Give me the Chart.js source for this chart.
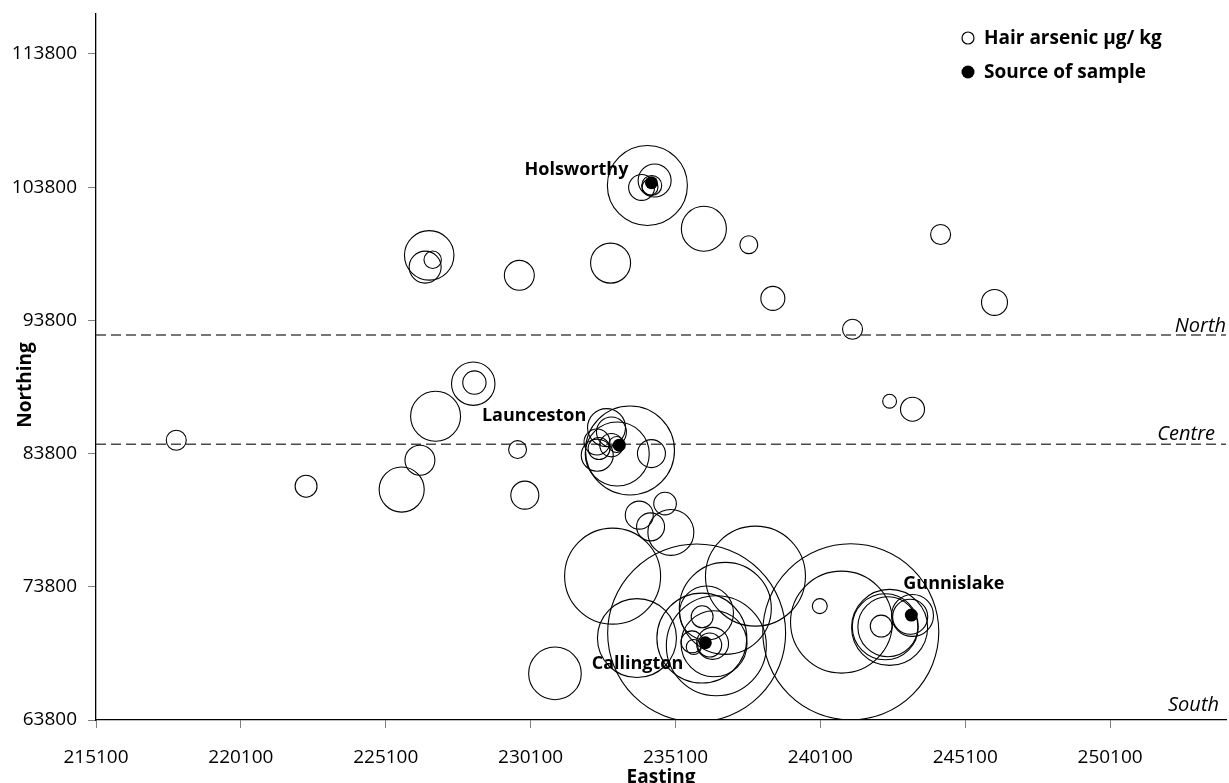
<!DOCTYPE html>
<html><head><meta charset="utf-8">
<script src="https://cdn.jsdelivr.net/npm/chart.js@4"></script>
<style>html,body{margin:0;padding:0;background:#fff}canvas{display:block}</style>
</head><body>
<canvas id="c" width="1229" height="783"></canvas>
<script>
// ---- data ----
const eastings = [234130,234380,233930,234220,234280,236080,237630,232860,229710,226600,226460,226720,238460,244250,246110,241210,
  228120,228160,226820,226280,225650,229650,229900,217870,222350,242490,243280,
  233530,233090,234270,232720,232890,232400,232390,232460,232890,233070,
  233850,234740,234240,234940,232930,235830,237860,233770,230940,
  236010,236510,236820,236170,236020,236430,235670,235730,236380,236280,
  241150,240830,240080,242340,242490,242430,243280,243200,242200];
const northings = [103930,104300,103780,103800,103930,100680,99480,98100,97180,98680,97800,98350,95450,100250,95150,93130,
  89050,89130,86600,83300,81100,84100,80680,84800,81350,87730,87130,
  84030,83770,83800,85750,85420,83680,84670,84180,84430,84480,
  79180,80050,78300,77880,74600,70330,74600,69950,67300,
  69950,69370,72180,71830,71550,69520,69670,69280,69550,69430,
  70420,71150,72350,70800,70750,70800,71650,71550,70850];
const hairArsenic = [400,68,42,16,25,127,20,100,56,153,64,19,36,25,42,25,
  118,34,156,56,127,20,49,25,30,12,36,
  495,256,49,90,56,64,42,30,34,16,
  49,32,49,132,576,1980,625,390,173,
  506,625,529,182,30,272,30,14,64,36,
  1936,650,14,272,361,225,110,77,30];
const sourceNames = ['Holsworthy','Launceston','Callington','Gunnislake'];
const sourceEastings = [234270,233160,236130,243240];
const sourceNorthings = [104130,84430,69600,71680];
const xTickValues = [215100,220100,225100,230100,235100,240100,245100,250100];
const yTickValues = [63800,73800,83800,93800,103800,113800];
const zoneNames = ['North','Centre','South'];
const zoneBoundaries = [92700,84500,63800];
const xRange = [215100,254100];
const yRange = [63800,116800];

// ---- styles ----
const FONT = "'Open Sans', 'Noto Sans', sans-serif";
const bubbleRadius = v => 2 * Math.sqrt(v);
const labelStyle = {
  Holsworthy: {align:'right', dx:-23, dy:-8},
  Launceston: {align:'right', dx:-33, dy:-24},
  Callington: {align:'right', dx:-22, dy:26},
  Gunnislake: {align:'left', dx:-8, dy:-26}
};
const zoneStyle = {North:{dx:0, dy:-3}, Centre:{dx:-11, dy:-4}, South:{dx:-7, dy:-9}};

const bubbleData = eastings.map((x,i)=>({x, y:northings[i], r:bubbleRadius(hairArsenic[i])}));
const sourceData = sourceEastings.map((x,i)=>({x, y:sourceNorthings[i], name:sourceNames[i]}));
const boundaryDatasets = zoneBoundaries.slice(0,2).map((y,i)=>({
  type:'line', label:zoneNames[i]+' boundary',
  data:[{x:xRange[0],y},{x:xRange[1],y}],
  borderColor:'#4a4a4a', borderWidth:1.5, borderDash:[10,5], pointRadius:0, fill:false, order:2
}));

const overlay = {
  id:'overlay',
  afterDatasetsDraw(chart){
    const {ctx, chartArea:a, scales:{x, y}} = chart;
    ctx.save();
    ctx.fillStyle = '#000';
    // town labels
    ctx.font = `bold 18px ${FONT}`;
    ctx.textBaseline = 'alphabetic';
    sourceData.forEach(p=>{
      const s = labelStyle[p.name];
      ctx.textAlign = s.align;
      ctx.fillText(p.name, x.getPixelForValue(p.x)+s.dx, y.getPixelForValue(p.y)+s.dy);
    });
    // zone labels
    ctx.font = `italic 20px ${FONT}`;
    ctx.textAlign = 'right';
    zoneNames.forEach((n,i)=>{
      const s = zoneStyle[n];
      ctx.fillText(n, a.right+s.dx, y.getPixelForValue(zoneBoundaries[i])+s.dy);
    });
    // legend
    const ds = chart.data.datasets;
    ctx.font = `bold 19px ${FONT}`;
    ctx.textAlign = 'left';
    ctx.textBaseline = 'middle';
    ctx.lineWidth = 1.2;
    ctx.strokeStyle = '#000';
    ctx.beginPath(); ctx.arc(968, 38, 6, 0, Math.PI*2); ctx.stroke();
    ctx.fillText(ds[0].label, 984, 39);
    ctx.beginPath(); ctx.arc(968, 72, 6.5, 0, Math.PI*2); ctx.fill();
    ctx.fillText(ds[1].label, 984, 73);
    // y axis title
    ctx.translate(26, 385);
    ctx.rotate(-Math.PI/2);
    ctx.textAlign = 'center';
    ctx.font = `bold 19px ${FONT}`;
    ctx.fillText('Northing', 0, 0);
    ctx.restore();
  }
};

new Chart(document.getElementById('c'), {
  type:'bubble',
  data:{datasets:[
    {label:'Hair arsenic μg/ kg', data:bubbleData, backgroundColor:'rgba(0,0,0,0)', borderColor:'#000', borderWidth:1.1, hoverBorderWidth:1.1, order:1},
    {type:'scatter', label:'Source of sample', data:sourceData, backgroundColor:'#000', borderColor:'#000', borderWidth:0, pointRadius:6.5, order:0},
    ...boundaryDatasets
  ]},
  options:{
    responsive:false, animation:false, devicePixelRatio:1, events:[],
    layout:{autoPadding:false, padding:{top:14, right:3, left:0, bottom:0}},
    plugins:{legend:{display:false}, tooltip:{enabled:false}},
    scales:{
      x:{type:'linear', min:xRange[0], max:xRange[1],
        afterBuildTicks:s=>{s.ticks = xTickValues.map(v=>({value:v}));},
        afterFit:s=>{s.height = 63; s.paddingLeft = 0; s.paddingRight = 0;},
        ticks:{font:{family:FONT, size:19}, color:'#000', padding:18, maxRotation:0, autoSkip:false, callback:v=>String(v)},
        grid:{drawOnChartArea:false, drawTicks:true, tickLength:8, color:'#808080'},
        border:{display:true, color:'#000', width:1.3},
        title:{display:true, text:'Easting', color:'#000', padding:0, font:{family:FONT, size:19, weight:'bold', lineHeight:0.6}}
      },
      y:{type:'linear', min:yRange[0], max:yRange[1],
        afterBuildTicks:s=>{s.ticks = yTickValues.map(v=>({value:v}));},
        afterFit:s=>{s.width = 96; s.paddingTop = 0; s.paddingBottom = 0;},
        ticks:{font:{family:FONT, size:19}, color:'#000', padding:11, autoSkip:false, callback:v=>String(v)},
        grid:{drawOnChartArea:false, drawTicks:true, tickLength:8, color:'#808080'},
        border:{display:true, color:'#000', width:1.3}
      }
    }
  },
  plugins:[overlay]
});
</script>
</body></html>
